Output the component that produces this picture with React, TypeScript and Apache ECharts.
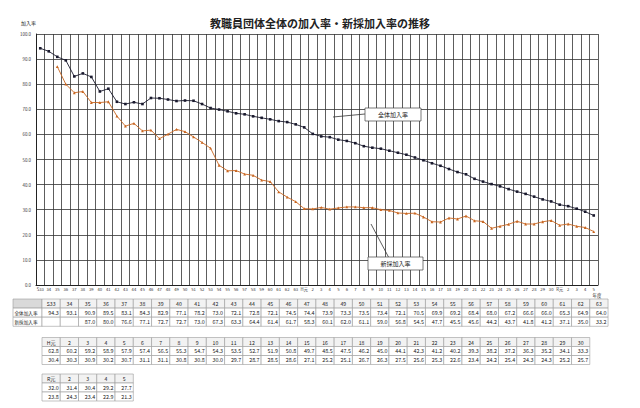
import React, { useEffect, useRef } from "react";
import * as echarts from "echarts";

const showaLabels = ["S33","34","35","36","37","38","39","40","41","42","43","44","45","46","47","48","49","50","51","52","53","54","55","56","57","58","59","60","61","62","63"];
const heiseiLabels = ["H元","2","3","4","5","6","7","8","9","10","11","12","13","14","15","16","17","18","19","20","21","22","23","24","25","26","27","28","29","30"];
const reiwaLabels = ["R元","2","3","4","5"];

const showaTotal = [94.3,93.1,90.9,89.5,83.1,84.3,82.9,77.1,78.2,73.0,72.1,72.8,72.1,74.5,74.4,73.9,73.3,73.5,73.4,72.1,70.5,69.9,69.2,68.4,68.0,67.2,66.6,66.0,65.3,64.9,64.0];
const showaNew = [null,null,87.0,80.0,76.6,77.1,72.7,72.7,73.0,67.3,63.3,64.4,61.4,61.7,58.3,60.1,62.0,61.1,59.0,56.8,54.5,47.7,45.5,45.6,44.2,43.7,41.8,41.2,37.1,35.0,33.2];
const heiseiTotal = [62.8,60.2,59.2,58.9,57.9,57.4,56.5,55.3,54.7,54.3,53.5,52.7,51.9,50.8,49.7,48.5,47.5,46.2,45.0,44.1,42.3,41.2,40.2,39.3,38.2,37.2,36.3,35.2,34.1,33.3];
const heiseiNew = [30.4,30.3,30.9,30.2,30.7,31.1,31.1,30.8,30.8,30.0,29.7,28.7,28.5,28.6,27.1,25.2,25.1,26.7,26.3,27.5,25.6,25.3,22.6,23.4,24.2,25.4,24.3,24.3,25.2,25.7];
const reiwaTotal = [32.0,31.4,30.4,29.2,27.7];
const reiwaNew = [23.8,24.3,23.4,22.9,21.3];

const seriesNames = ["全体加入率", "新採加入率"];
const yTicks = [0, 10, 20, 30, 40, 50, 60, 70, 80, 90, 100];

const FONT = "'Noto Sans CJK JP', 'Noto Sans', sans-serif";

function fmt(v: number | null) {
  return v == null ? "" : v.toFixed(1);
}

function buildTable(
  x0: number,
  y0: number,
  colW: number,
  rowH: number,
  headers: string[],
  rows: (number | null)[][],
  rowLabels: string[] | null,
  labelX: number
) {
  const els: any[] = [];
  const border = "#9a9a9a";
  if (rowLabels) {
    const lw = x0 - labelX;
    els.push({ type: "rect", shape: { x: labelX, y: y0, width: lw, height: rowH }, style: { fill: "#d9d9d9", stroke: border, lineWidth: 0.6 } });
    rowLabels.forEach((lab, i) => {
      const y = y0 + rowH * (i + 1);
      els.push({ type: "rect", shape: { x: labelX, y, width: lw, height: rowH }, style: { fill: "#fff", stroke: border, lineWidth: 0.6 } });
      els.push({ type: "text", x: labelX + 1.5, y: y + rowH / 2, style: { text: lab, fontSize: 4.6, fontFamily: FONT, fill: "#222", verticalAlign: "middle", align: "left" } });
    });
  }
  headers.forEach((h, c) => {
    const x = x0 + c * colW;
    els.push({ type: "rect", shape: { x, y: y0, width: colW, height: rowH }, style: { fill: "#f2f2f2", stroke: border, lineWidth: 0.6 } });
    els.push({ type: "text", x: x + colW / 2, y: y0 + rowH / 2, style: { text: h, fontSize: 5.2, fontFamily: FONT, fill: "#222", align: "center", verticalAlign: "middle" } });
    rows.forEach((r, i) => {
      const y = y0 + rowH * (i + 1);
      els.push({ type: "rect", shape: { x, y, width: colW, height: rowH }, style: { fill: "#fff", stroke: border, lineWidth: 0.6 } });
      els.push({ type: "text", x: x + colW - 1.5, y: y + rowH / 2, style: { text: fmt(r[c]), fontSize: 5.4, fontFamily: FONT, fill: "#222", align: "right", verticalAlign: "middle" } });
    });
  });
  return els;
}

export default function App() {
  const ref = useRef<HTMLDivElement>(null);
  useEffect(() => {
    if (!ref.current) return;
    const chart = echarts.init(ref.current, null, { renderer: "svg" });
    const categories = [...showaLabels, ...heiseiLabels, ...reiwaLabels];
    const total = [...showaTotal, ...heiseiTotal, ...reiwaTotal];
    const newer = [...showaNew, ...heiseiNew, ...reiwaNew];

    const colW = 18.26;
    const tx = 42;
    const graphics: any[] = [
      ...buildTable(tx, 299, colW, 9.1, showaLabels, [showaTotal, showaNew], seriesNames, 13),
      ...buildTable(tx, 337.5, colW, 9, heiseiLabels, [heiseiTotal, heiseiNew], null, 13),
      ...buildTable(tx, 374, colW, 9, reiwaLabels, [reiwaTotal, reiwaNew], null, 13),
      // axis name under last label
      { type: "text", x: 597, y: 295.3, style: { text: "年度", fontSize: 4.4, fontFamily: FONT, fill: "#222", align: "center", verticalAlign: "middle" } },
      // annotations
      { type: "line", z: 100, shape: { x1: 333, y1: 117, x2: 365, y2: 114 }, style: { stroke: "#333", lineWidth: 0.8 } },
      { type: "rect", z: 100, shape: { x: 365, y: 108, width: 56, height: 13 }, style: { fill: "#fff", stroke: "#444", lineWidth: 0.7 } },
      { type: "text", z: 101, x: 393, y: 114.5, style: { text: seriesNames[0], fontSize: 6, fontFamily: FONT, fill: "#222", align: "center", verticalAlign: "middle" } },
      { type: "line", z: 100, shape: { x1: 371, y1: 224, x2: 389, y2: 258 }, style: { stroke: "#333", lineWidth: 0.8 } },
      { type: "rect", z: 100, shape: { x: 368, y: 257, width: 55, height: 13 }, style: { fill: "#fff", stroke: "#444", lineWidth: 0.7 } },
      { type: "text", z: 101, x: 395.5, y: 263.5, style: { text: seriesNames[1], fontSize: 6, fontFamily: FONT, fill: "#222", align: "center", verticalAlign: "middle" } },
    ];

    chart.setOption({
      animation: false,
      backgroundColor: "#fff",
      title: {
        text: "教職員団体全体の加入率・新採加入率の推移",
        left: "center",
        top: 12,
        textStyle: { fontSize: 11, fontWeight: "bold", fontFamily: FONT, color: "#222" },
      },
      grid: { left: 36, right: 42, top: 34, bottom: 123, containLabel: false },
      xAxis: {
        type: "category",
        data: categories,
        boundaryGap: true,
        axisLine: { lineStyle: { color: "#222", width: 1 } },
        axisTick: { show: false },
        axisLabel: { interval: 0, fontSize: 4.2, fontFamily: FONT, color: "#333", margin: 2 },
        splitLine: { show: true, interval: 0, lineStyle: { color: "#333", width: 0.8 } },
      },
      yAxis: {
        type: "value",
        min: 0,
        max: 100,
        interval: 10,
        name: "加入率",
        nameLocation: "end",
        nameGap: 9,
        nameTextStyle: { fontSize: 5, fontFamily: FONT, color: "#222", align: "right", padding: [0, 0, 0, 0] },
        axisLine: { show: true, lineStyle: { color: "#222" } },
        axisTick: { show: false },
        axisLabel: {
          fontSize: 4.4,
          fontFamily: FONT,
          color: "#333",
          margin: 5,
          formatter: (v: number) => (yTicks.includes(v) ? v.toFixed(1) : ""),
        },
        splitLine: { show: true, lineStyle: { color: "#333", width: 0.8 } },
      },
      series: [
        {
          name: seriesNames[0],
          type: "line",
          data: total,
          symbol: "rect",
          symbolSize: 2.6,
          itemStyle: { color: "#1a1a2e" },
          lineStyle: { color: "#1a1a2e", width: 0.9 },
        },
        {
          name: seriesNames[1],
          type: "line",
          data: newer,
          connectNulls: false,
          symbol: "triangle",
          symbolSize: 2.8,
          itemStyle: { color: "#c8651f" },
          lineStyle: { color: "#c8651f", width: 0.9 },
        },
      ],
      graphic: graphics,
    });
    return () => chart.dispose();
  }, []);
  return <div ref={ref} style={{ width: 640, height: 408, position: "absolute", left: 0, top: 0 }} />;
}
